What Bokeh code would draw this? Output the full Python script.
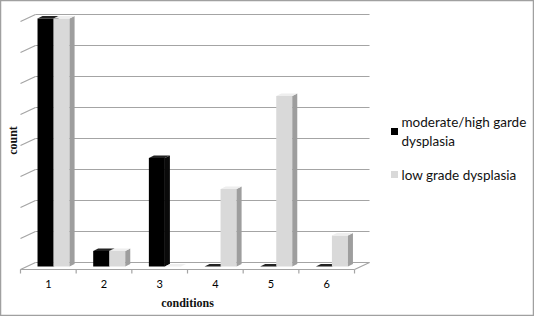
import math
from bokeh.plotting import figure
from bokeh.models import Range1d
from bokeh.core.properties import value
from bokeh.embed import file_html
from bokeh.resources import INLINE

# ---------------- data ----------------
categories = ["1", "2", "3", "4", "5", "6"]
moderate_high = [16, 1, 7, 0, 0, 0]
low_grade = [16, 1, 0, 5, 11, 2]
series_names = ["moderate/high garde\ndysplasia", "low grade dysplasia"]
grid_step = 2
grid_max = 16
x_title = "conditions"
y_title = "count"

# ---------------- layout (pixels) ----------------
W, H = 534, 316
ORIG_X = 20.0        # px of x=0 (front-left floor corner) inside figure
ORIG_Y = 269.0       # px of y=0 (front floor edge) from top
PX_PER_CAT = 55.67
PX_PER_UNIT = 15.5

def px2x(px):
    return (px - ORIG_X) / PX_PER_CAT

def px2y(py):
    return (ORIG_Y - py) / PX_PER_UNIT

DX_FULL = 15 / PX_PER_CAT     # 3D depth of floor / wall
DY_FULL = 7 / PX_PER_UNIT
DXB = 0.43 * DX_FULL          # bars sit mid depth
DYB = 0.43 * DY_FULL
TX = 5 / PX_PER_CAT           # bar thickness (side face)
TY = 2.5 / PX_PER_UNIT
BAR_START = 0.19
BAR_W = 0.288

p = figure(width=W, height=H, output_backend="svg", toolbar_location=None,
           x_range=Range1d(px2x(0), px2x(W)), y_range=Range1d(px2y(H), px2y(0)),
           x_axis_type=None, y_axis_type=None, min_border=0,
           background_fill_color="white", border_fill_color="white")
p.grid.visible = False
p.outline_line_color = "#a0a0a0"
p.outline_line_width = 1.5

GRID_COL = "#a4a4a4"
ncat = len(categories)

# back wall gridlines
levels = list(range(0, grid_max + 1, grid_step))
p.segment(x0=[DX_FULL] * len(levels), x1=[ncat + DX_FULL] * len(levels),
          y0=[l + DY_FULL for l in levels], y1=[l + DY_FULL for l in levels],
          line_color=GRID_COL, line_width=1.2)
# left wall diagonals
p.segment(x0=[0] * len(levels), x1=[DX_FULL] * len(levels),
          y0=levels, y1=[l + DY_FULL for l in levels],
          line_color=GRID_COL, line_width=1.2)
# floor front edge and right edge
p.segment(x0=[0, ncat], x1=[ncat, ncat + DX_FULL], y0=[0, 0], y1=[0, DY_FULL],
          line_color=GRID_COL, line_width=1.2)
# ticks at category boundaries
p.segment(x0=list(range(ncat + 1)), x1=list(range(ncat + 1)),
          y0=[0] * (ncat + 1), y1=[-4 / PX_PER_UNIT] * (ncat + 1),
          line_color=GRID_COL, line_width=1.2)

# bars
styles = [
    dict(front="#000000", side="#0a0a0a", top="#222222"),
    dict(front="#d9d9d9", side="#9e9e9e", top="#eeeeee"),
]
for s, vals in enumerate([moderate_high, low_grade]):
    st = styles[s]
    lefts, rights, tops, bottoms = [], [], [], []
    side_xs, side_ys, top_xs, top_ys = [], [], [], []
    for i, v in enumerate(vals):
        xa = i + BAR_START + DXB + s * BAR_W
        xb = xa + BAR_W
        yb = DYB
        yt = v + DYB
        if v > 0:
            lefts.append(xa); rights.append(xb); bottoms.append(yb); tops.append(yt)
            side_xs.append([xb, xb + TX, xb + TX, xb])
            side_ys.append([yb, yb + TY, yt + TY, yt])
        top_xs.append([xa, xa + TX, xb + TX, xb])
        top_ys.append([yt, yt + TY, yt + TY, yt])
    p.quad(left=lefts, right=rights, bottom=bottoms, top=tops,
           fill_color=st["front"], line_color=None)
    p.patches(xs=side_xs, ys=side_ys, fill_color=st["side"], line_color=None)
    p.patches(xs=top_xs, ys=top_ys, fill_color=st["top"], line_color=None)

# tick labels
p.text(x=[i + 0.5 for i in range(ncat)], y=[px2y(283)] * ncat, text=categories,
       text_font=value("Lato"), text_font_size="11px", text_color="#000000",
       text_align="center", text_baseline="middle")
# axis titles
p.text(x=[px2x(187)], y=[px2y(302)], text=[x_title], text_font=value("Liberation Serif"),
       text_font_style="bold", text_font_size="12px", text_color="#111111",
       text_align="center", text_baseline="middle")
p.text(x=[px2x(12)], y=[px2y(140)], text=[y_title], text_font=value("Liberation Serif"),
       text_font_style="bold", text_font_size="12px", text_color="#111111",
       text_align="center", text_baseline="middle", angle=math.pi / 2)

# legend
leg_cols = [styles[0]["front"], styles[1]["front"]]
sq_y = [131, 174]
p.scatter(x=[px2x(394)] * 2, y=[px2y(y) for y in sq_y], marker="square", size=7,
          fill_color=leg_cols, line_color=None)
p.text(x=[px2x(401)] * 2, y=[px2y(y) for y in sq_y], text=series_names,
       text_font=value("Lato"), text_font_size="13.5px", text_color="#111111",
       text_align="left", text_baseline="middle", text_line_height=1.2)

open("out.html", "w").write(file_html(p, INLINE))
